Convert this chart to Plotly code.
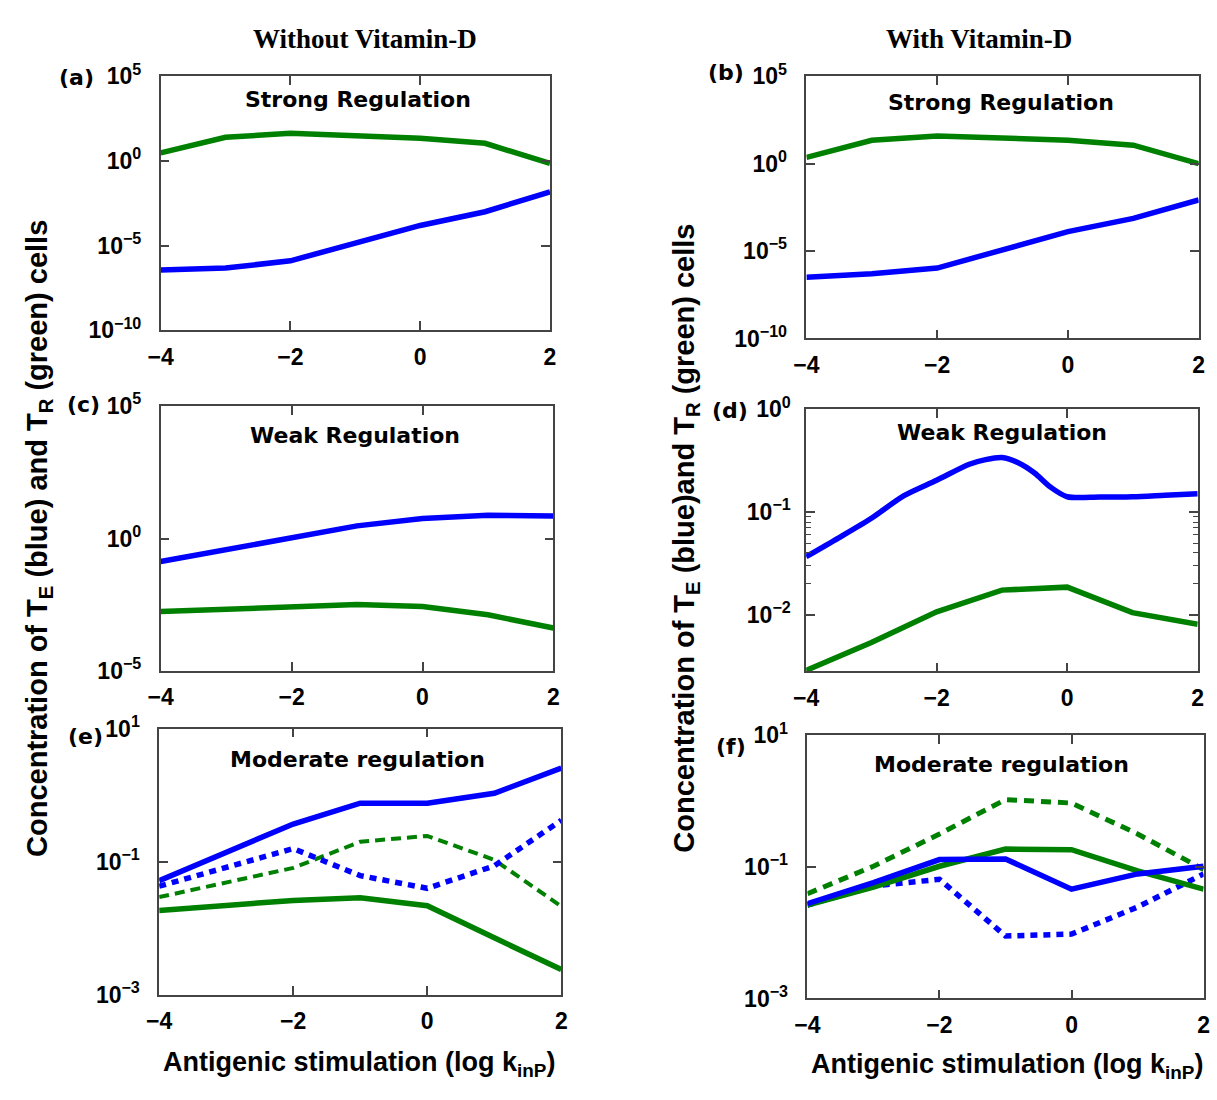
import plotly.graph_objects as go

W, H = 1217, 1100

# ---------------- data ----------------
x = [-4, -3, -2, -1, 0, 1, 2]
x_ticks = [-4, -2, 0, 2]
x_ticktext = ["\u22124", "\u22122", "0", "2"]

# (a) Strong regulation, without vitamin D
a_TE = [3.6e-7, 4.7e-7, 1.26e-6, 1.4e-5, 1.55e-4, 1.0e-3, 1.5e-2]
a_TR = [3.0, 25, 43, 32, 22, 11, 0.72]
# (b) Strong regulation, with vitamin D
b_TE = [3.2e-7, 5.0e-7, 1.07e-6, 1.26e-5, 1.3e-4, 7.4e-4, 8.5e-3]
b_TR = [2.3, 22, 39, 30, 22, 11.5, 1.0]
# (c) Weak regulation, without vitamin D
c_TE = [0.135, 0.38, 1.12, 3.0, 5.75, 7.6, 7.1]
c_TR = [1.74e-3, 2.2e-3, 2.7e-3, 3.2e-3, 2.7e-3, 1.32e-3, 4.2e-4]
# (d) Weak regulation, with vitamin D (T_E drawn as a smooth curve)
d_x_TE = [-4, -3.5, -3, -2.5, -2, -1.5, -1.25, -1, -0.75, -0.5, -0.25, 0, 0.5, 1, 1.5, 2]
d_TE = [0.0368, 0.0562, 0.0871, 0.1445, 0.204, 0.292, 0.324, 0.339, 0.302, 0.240,
        0.174, 0.141, 0.140, 0.141, 0.146, 0.151]
d_TR = [2.88e-3, 5.37e-3, 1.07e-2, 1.74e-2, 1.86e-2, 1.05e-2, 8.1e-3]
# (e) Moderate regulation, without vitamin D
e_TE_solid = [0.052, 0.141, 0.37, 0.76, 0.76, 1.07, 2.57]
e_TE_dot = [0.043, 0.081, 0.158, 0.062, 0.040, 0.087, 0.42]
e_TR_dash = [0.0295, 0.049, 0.081, 0.20, 0.245, 0.107, 0.0214]
e_TR_solid = [0.0186, 0.0224, 0.0263, 0.0288, 0.0219, 0.0072, 0.0024]
# (f) Moderate regulation, with vitamin D
f_TE_solid = [0.0275, 0.0575, 0.129, 0.132, 0.0457, 0.078, 0.102]
f_TE_dot = [0.0263, 0.0513, 0.0646, 0.0089, 0.0095, 0.0245, 0.078]
f_TR_dash = [0.039, 0.102, 0.316, 1.05, 0.93, 0.316, 0.091]
f_TR_solid = [0.0263, 0.049, 0.102, 0.186, 0.182, 0.087, 0.0457]

# tick values / labels per panel
yt_ab = [1e-10, 1e-5, 1, 1e5]
yt_ab_text = ["10<sup>\u221210</sup>", "10<sup>\u22125</sup>", "10<sup>0</sup>", "10<sup>5</sup>"]
yt_c = [1e-5, 1, 1e5]
yt_c_text = ["10<sup>\u22125</sup>", "10<sup>0</sup>", "10<sup>5</sup>"]
yt_d = [1e-2, 1e-1, 1]
yt_d_text = ["10<sup>\u22122</sup>", "10<sup>\u22121</sup>", "10<sup>0</sup>"]
yt_ef = [1e-3, 1e-1, 10]
yt_ef_text = ["10<sup>\u22123</sup>", "10<sup>\u22121</sup>", "10<sup>1</sup>"]

panel_letters = ["(a)", "(b)", "(c)", "(d)", "(e)", "(f)"]
panel_titles = ["Strong Regulation", "Strong Regulation", "Weak Regulation",
                "Weak Regulation", "Moderate regulation", "Moderate regulation"]
col_titles = ["Without Vitamin-D", "With Vitamin-D"]

# ---------------- styling / layout ----------------
BLUE = "#0000FF"
GREEN = "#008000"
SANS = "Liberation Sans, Arial, sans-serif"
LBL = "DejaVu Sans, Verdana, sans-serif"

# panel boxes in pixels: (left, right, top, bottom)
boxes = [
    (150, 545.5, 61, 322),
    (806, 1204.5, 61, 330.5),
    (150, 549, 400, 672.3),
    (805.7, 1203.5, 403.3, 672.7),
    (148.5, 557, 731.7, 1005.3),
    (807, 1209.5, 738.3, 1009),
]
yranges = [[-10, 5], [-10, 5], [-5, 5], [-2.55, 0], [-3, 1], [-3, 1]]
yticks = [(yt_ab, yt_ab_text), (yt_ab, yt_ab_text), (yt_c, yt_c_text),
          (yt_d, yt_d_text), (yt_ef, yt_ef_text), (yt_ef, yt_ef_text)]


def px(xp):
    return xp / W


def py(yp):
    return 1 - yp / H


fig = go.Figure()


def add(i, xs, ys, color, width=5.5, dash="solid", shape="linear"):
    n = "" if i == 0 else str(i + 1)
    fig.add_trace(go.Scatter(
        x=xs, y=ys, mode="lines",
        line=dict(color=color, width=width, dash=dash, shape=shape, smoothing=0.8),
        xaxis="x" + n, yaxis="y" + n, showlegend=False, hoverinfo="skip"))


add(0, x, a_TR, GREEN)
add(0, x, a_TE, BLUE)
add(1, x, b_TR, GREEN)
add(1, x, b_TE, BLUE)
add(2, x, c_TE, BLUE)
add(2, x, c_TR, GREEN)
add(3, d_x_TE, d_TE, BLUE, shape="spline")
add(3, x, d_TR, GREEN)
add(4, x, e_TR_solid, GREEN)
add(4, x, e_TR_dash, GREEN, width=4, dash="10px,6px")
add(4, x, e_TE_dot, BLUE, width=5.5, dash="7px,6px")
add(4, x, e_TE_solid, BLUE)
add(5, x, f_TR_dash, GREEN, width=5, dash="10px,7px")
add(5, x, f_TE_dot, BLUE, width=5.5, dash="7px,6px")
add(5, x, f_TR_solid, GREEN)
add(5, x, f_TE_solid, BLUE)

layout = dict(
    width=W, height=H,
    margin=dict(l=0, r=0, t=0, b=0),
    paper_bgcolor="white", plot_bgcolor="white",
    showlegend=False,
)

common = dict(showline=True, linecolor="#444", linewidth=1.5, mirror="ticks",
              ticks="inside", ticklen=9, tickwidth=1.5, tickcolor="#444",
              showgrid=False, zeroline=False,
              tickfont=dict(family=SANS, size=23, color="black", weight="bold"))

for i, (l, r, t, b) in enumerate(boxes):
    n = "" if i == 0 else str(i + 1)
    xa = dict(common)
    xa.update(domain=[px(l), px(r)], range=[-4, 2], tickmode="array",
              tickvals=x_ticks, ticktext=x_ticktext, anchor="y" + n,
              ticklabelstandoff=5)
    ya = dict(common)
    ya.update(domain=[py(b), py(t)], type="log", range=yranges[i],
              tickmode="array", tickvals=yticks[i][0], ticktext=yticks[i][1],
              anchor="x" + n, ticklabelstandoff=13 if i != 3 else 9)
    if i == 3:
        ya["minor"] = dict(ticks="inside", ticklen=5, tickwidth=1.2, tickcolor="#444",
                           tickmode="array",
                           tickvals=[0.02, 0.03, 0.04, 0.05, 0.06, 0.07, 0.08, 0.09],
                           showgrid=False)
    layout["xaxis" + n] = xa
    layout["yaxis" + n] = ya

annotations = []

# column titles
for cx, txt in zip([358, 981], col_titles):
    annotations.append(dict(x=px(cx), y=py(23), xref="paper", yref="paper",
                            text=txt, showarrow=False, xanchor="center", yanchor="middle",
                            font=dict(family="Liberation Serif, Times New Roman, serif",
                                      size=27, color="black", weight="bold")))

# panel letters
letter_pos = [(64, 62), (724, 57), (72, 398), (728, 405), (74, 740), (729, 750)]
for (lx, ly), txt in zip(letter_pos, panel_letters):
    annotations.append(dict(x=px(lx), y=py(ly), xref="paper", yref="paper",
                            text=txt, showarrow=False, xanchor="center", yanchor="middle",
                            font=dict(family=LBL, size=22, color="black", weight="bold")))

# panel titles
title_pos = [(350, 85), (1004, 88), (347, 430), (1005, 427), (350, 763), (1004, 768)]
for (tx, ty), txt in zip(title_pos, panel_titles):
    annotations.append(dict(x=px(tx), y=py(ty), xref="paper", yref="paper",
                            text=txt, showarrow=False, xanchor="center", yanchor="middle",
                            font=dict(family=LBL, size=22, color="black", weight="bold")))

# y-axis titles
ytitles = [
    (27, "Concentration of T<sub>E</sub> (blue) and T<sub>R</sub> (green) cells"),
    (684, "Concentration of T<sub>E</sub> (blue)and T<sub>R</sub> (green) cells"),
]
for yx, txt in ytitles:
    annotations.append(dict(x=px(yx), y=py(536), xref="paper", yref="paper",
                            text=txt, showarrow=False, textangle=-90,
                            xanchor="center", yanchor="middle",
                            font=dict(family=SANS, size=29, color="black", weight="bold")))

# x-axis titles
for xx, xy in [(351, 1076), (1010, 1078)]:
    annotations.append(dict(x=px(xx), y=py(xy), xref="paper", yref="paper",
                            text="Antigenic stimulation (log k<sub>inP</sub>)",
                            showarrow=False, xanchor="center", yanchor="middle",
                            font=dict(family=SANS, size=27, color="black", weight="bold")))

layout["annotations"] = annotations
fig.update_layout(**layout)
fig.write_html("out.html")
